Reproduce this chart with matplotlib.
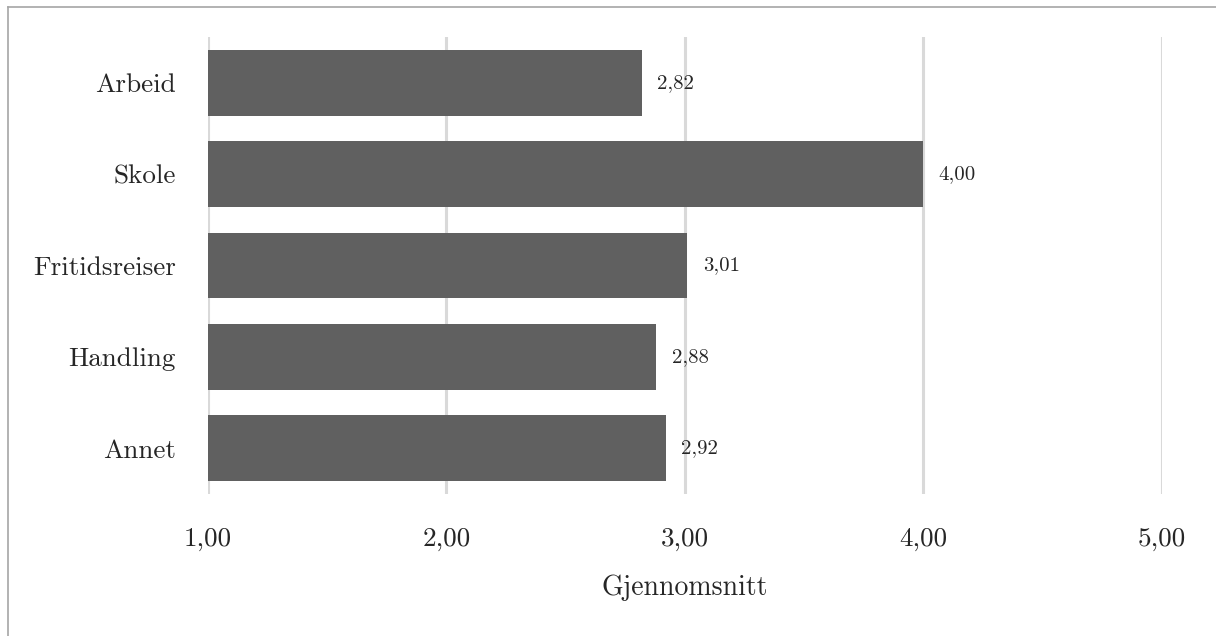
import numpy as np
import matplotlib
matplotlib.use("Agg")
import matplotlib.pyplot as plt
from matplotlib.lines import Line2D

plt.rcParams['font.family'] = ['cmr10', 'DejaVu Sans']
plt.rcParams['axes.unicode_minus'] = False

categories = ["Arbeid", "Skole", "Fritidsreiser", "Handling", "Annet"]
averages = [2.82, 4.00, 3.01, 2.88, 2.92]
ticks = [1.0, 2.0, 3.0, 4.0, 5.0]


def comma(v):
    return "{:.2f}".format(v).replace('.', ',')


fig = plt.figure(figsize=(12.16, 6.36), dpi=100)
ax = fig.add_axes([0.171, 0.2233, 0.7846, 0.7185])

y = np.arange(len(categories))
bars = ax.barh(y, averages, height=0.72, color='#606060', zorder=3)
ax.bar_label(bars, labels=[comma(v) for v in averages], padding=11,
             fontsize=15, color='#262626')

ax.set_xlim(1, 5)
ax.set_ylim(len(categories) - 0.5, -0.5)
ax.set_xticks(ticks)
ax.set_xticklabels([comma(t) for t in ticks])
ax.set_yticks(y)
ax.set_yticklabels(categories)
ax.tick_params(axis='both', length=0, labelsize=19.5, colors='#262626')
ax.tick_params(axis='x', pad=24)
ax.tick_params(axis='y', pad=23)
ax.xaxis.grid(True, color='#d9d9d9', linewidth=2.2, zorder=0)
for s in ax.spines.values():
    s.set_visible(False)

ax.set_xlabel("Gjennomsnitt", fontsize=20, color='#262626', labelpad=17)

# frame lines along the top and left edge
fig.add_artist(Line2D([8 / 1216, 8 / 1216], [0, 1 - 7 / 636],
                      transform=fig.transFigure, color='#a6a6a6', lw=1.2))
fig.add_artist(Line2D([8 / 1216, 1], [1 - 7 / 636, 1 - 7 / 636],
                      transform=fig.transFigure, color='#a6a6a6', lw=1.2))

fig.savefig("out.png", dpi=100)
